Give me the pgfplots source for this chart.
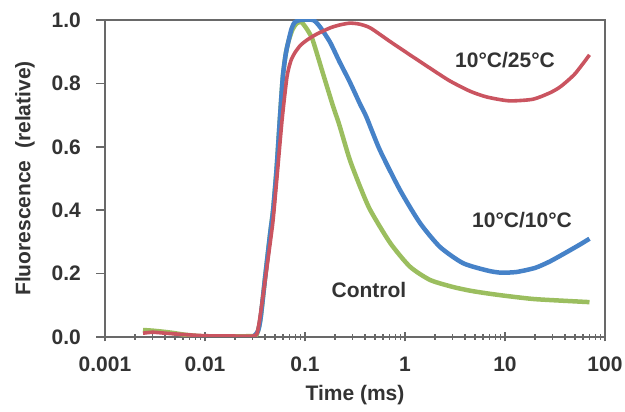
\documentclass[border=0pt]{standalone}
\usepackage{pgfplots}
\pgfplotsset{compat=1.18}
\usepackage{fontspec}
\setmainfont{Liberation Sans}
\definecolor{cred}{RGB}{202,84,96}
\definecolor{cblue}{RGB}{70,130,200}
\definecolor{cgreen}{RGB}{155,190,95}
\definecolor{cframe}{RGB}{105,105,105}
\begin{document}
\begin{tikzpicture}
\useasboundingbox (-105pt,-75pt) rectangle (520pt,337pt);
\begin{axis}[
  at={(0,0)}, anchor=south west,
  scale only axis, width=500pt, height=317pt,
  xmode=log, xmin=0.001, xmax=100, ymin=0, ymax=1,
  xtick={0.001,0.01,0.1,1,10,100},
  xticklabels={0.001,0.01,0.1,1,10,100},
  minor xtick={0.002,0.003,0.004,0.005,0.006,0.007,0.008,0.009,
               0.02,0.03,0.04,0.05,0.06,0.07,0.08,0.09,
               0.2,0.3,0.4,0.5,0.6,0.7,0.8,0.9,
               2,3,4,5,6,7,8,9,20,30,40,50,60,70,80,90},
  ytick={0,0.2,0.4,0.6,0.8,1.0},
  y tick label style={/pgf/number format/fixed,/pgf/number format/fixed zerofill,/pgf/number format/precision=1},
  /pgf/number format/assume math mode=true,
  tick label style={font=\fontsize{21}{24}\selectfont\bfseries, text=black!80},
  tick pos=left,
  tick align=outside,
  xtick align=center,
  major tick length=9pt, minor tick length=6pt,
  tick style={draw=cframe, line width=1.5pt},
  axis line style={draw=cframe, line width=2pt},
  xlabel={Time (ms)},
  ylabel={Fluorescence\ \ (relative)},
  label style={font=\fontsize{21}{24}\selectfont\bfseries, text=black!80},
  xlabel style={at={(axis description cs:0.5,-0.183)}, anchor=center},
  ylabel style={at={(axis description cs:-0.16,0.5)}, anchor=center, rotate=0},
  yticklabel style={xshift=-6pt, inner xsep=9pt},
  xticklabel style={yshift=-2pt, inner ysep=13pt},
]
\addplot[cgreen, line width=4.5pt, smooth, tension=0.4] coordinates {
(0.0024,0.022)(0.003,0.02)(0.004,0.016)(0.005,0.012)(0.006,0.008)(0.008,0.004)(0.01,0.002)(0.02,0.002)(0.03,0.003)(0.033,0.008)(0.036,0.06)(0.04,0.19)(0.045,0.33)(0.048,0.4)(0.052,0.53)(0.056,0.685)(0.06,0.82)(0.064,0.89)(0.068,0.93)(0.075,0.97)(0.083,0.99)(0.092,0.993)(0.1,0.98)(0.11,0.96)(0.12,0.935)(0.15,0.835)(0.19,0.73)(0.22,0.67)(0.28,0.56)(0.36,0.47)(0.45,0.40)(0.71,0.297)(1.12,0.222)(1.78,0.18)(3,0.158)(4.5,0.146)(6.5,0.138)(10,0.13)(19,0.12)(35,0.115)(70,0.11)
};
\addplot[cblue, line width=4.5pt, smooth, tension=0.4] coordinates {
(0.031,0.003)(0.034,0.02)(0.036,0.06)(0.04,0.19)(0.045,0.33)(0.048,0.4)(0.052,0.53)(0.056,0.685)(0.06,0.82)(0.064,0.89)(0.068,0.93)(0.073,0.97)(0.079,0.993)(0.09,1.0)(0.12,1.0)(0.14,0.98)(0.178,0.93)(0.22,0.87)(0.28,0.805)(0.355,0.735)(0.41,0.695)(0.56,0.59)(0.89,0.464)(1.41,0.36)(2.24,0.284)(3.8,0.233)(6.6,0.21)(9,0.203)(13,0.205)(20,0.218)(28,0.238)(40,0.265)(55,0.29)(70,0.31)
};
\addplot[cred, line width=3.6pt, smooth, tension=0.4] coordinates {
(0.0024,0.012)(0.003,0.015)(0.004,0.012)(0.006,0.008)(0.01,0.004)(0.02,0.003)(0.03,0.003)(0.033,0.01)(0.035,0.05)(0.04,0.18)(0.045,0.3)(0.048,0.37)(0.053,0.52)(0.059,0.685)(0.066,0.82)(0.072,0.87)(0.079,0.896)(0.09,0.92)(0.105,0.937)(0.13,0.955)(0.178,0.975)(0.22,0.984)(0.28,0.99)(0.35,0.987)(0.45,0.975)(0.71,0.932)(1.12,0.89)(1.78,0.848)(2.8,0.808)(4.5,0.775)(6.6,0.757)(11,0.745)(19,0.75)(28,0.77)(36,0.79)(50,0.83)(70,0.89)
};
\node[font=\fontsize{21}{24}\selectfont\bfseries, text=black!80] at (axis cs:10,0.874) {10°C/25°C};
\node[font=\fontsize{21}{24}\selectfont\bfseries, text=black!80] at (axis cs:14.8,0.369) {10°C/10°C};
\node[font=\fontsize{21}{24}\selectfont\bfseries, text=black!80] at (axis cs:0.436,0.148) {Control};
\end{axis}
\end{tikzpicture}
\end{document}
